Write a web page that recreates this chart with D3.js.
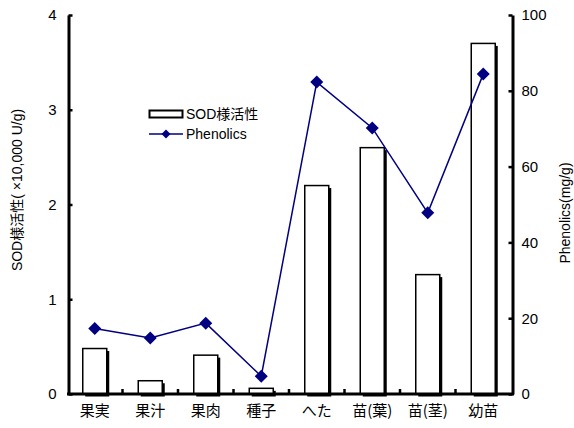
<!DOCTYPE html>
<html>
<head>
<meta charset="utf-8">
<script src="https://cdn.jsdelivr.net/npm/d3@7"></script>
<style>
  html, body { margin: 0; padding: 0; background: #fff; }
  svg { display: block; }
  text { font-family: "Liberation Sans", Arial, "Noto Sans CJK JP", sans-serif; fill: #000; }
  .jp { font-family: "Noto Sans CJK JP", "Liberation Sans", sans-serif; }
</style>
</head>
<body>
<svg id="chart" width="574" height="428"></svg>
<script>
// Sample parts
const categories = ["果実", "果汁", "果肉", "種子", "へた", "苗(葉)", "苗(茎)", "幼苗"];
// SOD-like activity (×10,000 U/g)
const sodValues = [0.48, 0.14, 0.41, 0.06, 2.2, 2.6, 1.26, 3.7];
// Total phenolics (mg/g)
const phenolicValues = [17.3, 14.8, 18.7, 4.7, 82.3, 70.2, 47.8, 84.4];
const sodTicks = [0, 1, 2, 3, 4];
const phenolicTicks = [0, 20, 40, 60, 80, 100];

const svg = d3.select("#chart");
const plotLeft = 68.5, plotRight = 512.5, plotTop = 15, plotBottom = 394;
const navy = "#000080";

const x = d3.scaleBand().domain(categories).range([67, 511]).padding(0);
const yL = d3.scaleLinear().domain([0, 4]).range([plotBottom, plotTop]);
const yR = d3.scaleLinear().domain([0, 100]).range([plotBottom, plotTop]);

// Bars with drop shadow
const barW = 24;
const bars = svg.append("g");
bars.selectAll("rect.shadow").data(categories).join("rect")
  .attr("class", "shadow")
  .attr("x", d => x(d) + x.bandwidth() / 2 - barW / 2 + 2.5)
  .attr("y", (d, i) => yL(sodValues[i]) + 2.5)
  .attr("width", barW)
  .attr("height", (d, i) => plotBottom - yL(sodValues[i]))
  .attr("fill", "#000");
bars.selectAll("rect.bar").data(categories).join("rect")
  .attr("class", "bar")
  .attr("x", d => x(d) + x.bandwidth() / 2 - barW / 2)
  .attr("y", (d, i) => yL(sodValues[i]))
  .attr("width", barW)
  .attr("height", (d, i) => plotBottom - yL(sodValues[i]))
  .attr("fill", "#fff")
  .attr("stroke", "#000")
  .attr("stroke-width", 1.5);

// Axes
const axL = svg.append("g").attr("transform", `translate(${plotLeft},0)`)
  .call(d3.axisLeft(yL).tickValues(sodTicks).tickFormat(d3.format("d"))
    .tickSizeInner(-4).tickSizeOuter(0).tickPadding(12));
const axR = svg.append("g").attr("transform", `translate(${plotRight},0)`)
  .call(d3.axisRight(yR).tickValues(phenolicTicks).tickFormat(d3.format("d"))
    .tickSizeInner(-4).tickSizeOuter(0).tickPadding(9));
[axL, axR].forEach(ax => {
  ax.select(".domain").attr("stroke-width", 3);
  ax.selectAll(".tick line").attr("stroke-width", 2.5);
  ax.selectAll(".tick text").attr("font-size", 15)
    .style("font-family", "'Liberation Sans', Arial, sans-serif");
});

// Category axis with inward ticks between groups
const axB = svg.append("g").attr("transform", `translate(0,${plotBottom})`)
  .call(d3.axisBottom(x).tickSize(0).tickPadding(11));
axB.select(".domain").remove();
axB.selectAll(".tick text").attr("font-size", 15).attr("class", "jp");
svg.append("line").attr("x1", plotLeft - 1.5).attr("x2", plotRight + 1.5)
  .attr("y1", plotBottom).attr("y2", plotBottom)
  .attr("stroke", "#000").attr("stroke-width", 3);
svg.append("g").selectAll("line").data(categories.slice(1)).join("line")
  .attr("x1", d => x(d)).attr("x2", d => x(d))
  .attr("y1", plotBottom).attr("y2", plotBottom - 5)
  .attr("stroke", "#000").attr("stroke-width", 2.5);

// Phenolics line with diamond markers
const cx = d => x(d) + x.bandwidth() / 2;
const line = d3.line().x((d, i) => cx(categories[i])).y(d => yR(d));
svg.append("path").datum(phenolicValues)
  .attr("d", line).attr("fill", "none")
  .attr("stroke", navy).attr("stroke-width", 1.5);
const diamond = r => `M0,${-r}L${r},0L0,${r}L${-r},0Z`;
svg.append("g").selectAll("path").data(phenolicValues).join("path")
  .attr("d", diamond(6.5))
  .attr("transform", (d, i) => `translate(${cx(categories[i])},${yR(d)})`)
  .attr("fill", navy);

// Axis titles
svg.append("text")
  .attr("transform", "translate(22,190) rotate(-90)")
  .attr("text-anchor", "middle").attr("font-size", 14)
  .text("SOD様活性( ×10,000 U/g)");
svg.append("text")
  .attr("transform", "translate(570,213) rotate(-90)")
  .attr("text-anchor", "middle").attr("font-size", 14)
  .text("Phenolics(mg/g)");

// Legend
const lg = svg.append("g");
lg.append("rect").attr("x", 149.5).attr("y", 110.5).attr("width", 33).attr("height", 7)
  .attr("fill", "#fff").attr("stroke", "#000").attr("stroke-width", 2);
lg.append("text").attr("x", 186).attr("y", 119).attr("font-size", 14)
  .text("SOD様活性");
lg.append("line").attr("x1", 149).attr("x2", 183).attr("y1", 134).attr("y2", 134)
  .attr("stroke", navy).attr("stroke-width", 1.5);
lg.append("path").attr("d", diamond(4.5)).attr("transform", "translate(166,134)")
  .attr("fill", navy);
lg.append("text").attr("x", 186).attr("y", 139).attr("font-size", 14)
  .text("Phenolics");
</script>
</body>
</html>
